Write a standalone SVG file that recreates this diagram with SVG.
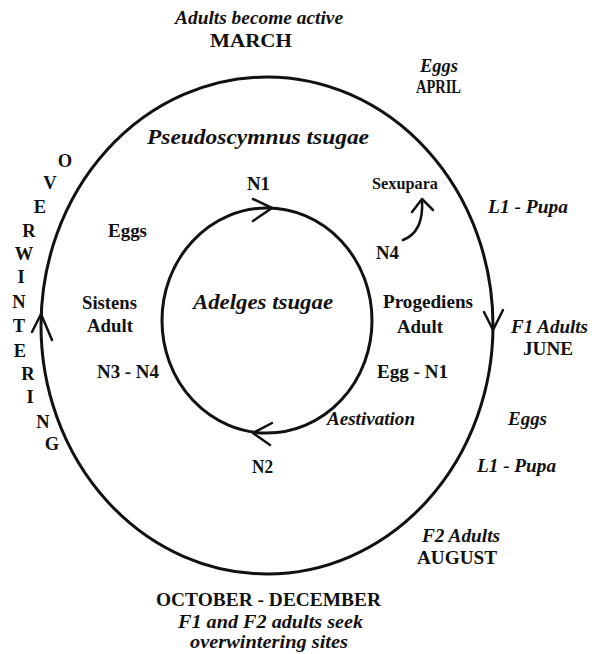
<svg xmlns="http://www.w3.org/2000/svg" width="596" height="654" viewBox="0 0 596 654">
<style>
text{font-family:"Liberation Serif","Times New Roman",serif;font-weight:bold;font-size:18.5px;fill:#111}
.i{font-style:italic}
.big{font-size:20.5px}
.ow{text-anchor:middle}
.ln{fill:none;stroke:#111;stroke-width:3;stroke-linecap:round;stroke-linejoin:round}
.ah{fill:none;stroke:#111;stroke-width:2.5;stroke-linecap:round;stroke-linejoin:round}
</style>
<rect width="596" height="654" fill="#fff"/>
<g id="connectors">
  <ellipse class="ln" cx="267" cy="325.5" rx="226" ry="248.5"/>
  <ellipse class="ln" cx="267" cy="320.5" rx="105" ry="112.5"/>
  <polyline class="ah" points="32,332 41,314 52,340"/>
  <polyline class="ah" points="484,312 493,330 503,310"/>
  <polyline class="ah" points="253,199 272,208 253,221"/>
  <polyline class="ah" points="272,423 253,433 270,445"/>
  <path class="ah" d="M403,240 Q424,232 422,200"/>
  <polyline class="ah" points="412,212 422,199 433,210"/>
</g>
<g id="march"><text class="i" x="175" y="24" textLength="168" lengthAdjust="spacingAndGlyphs">Adults become active</text><text x="210" y="47" textLength="82" lengthAdjust="spacingAndGlyphs">MARCH</text></g>
<g id="april"><text class="i" x="420" y="72" textLength="38" lengthAdjust="spacingAndGlyphs">Eggs</text><text x="416" y="93" textLength="45" lengthAdjust="spacingAndGlyphs">APRIL</text></g>
<g id="pseudoscymnus"><text class="i big" x="147" y="144" textLength="222" lengthAdjust="spacingAndGlyphs">Pseudoscymnus tsugae</text></g>
<g id="overwintering">
  <text class="ow" x="65" y="167">O</text>
  <text class="ow" x="50" y="189">V</text>
  <text class="ow" x="40" y="213">E</text>
  <text class="ow" x="29" y="237">R</text>
  <text class="ow" x="24" y="260">W</text>
  <text class="ow" x="21" y="283">I</text>
  <text class="ow" x="19" y="308">N</text>
  <text class="ow" x="19" y="332">T</text>
  <text class="ow" x="20" y="357">E</text>
  <text class="ow" x="28" y="380">R</text>
  <text class="ow" x="30" y="403">I</text>
  <text class="ow" x="43" y="428">N</text>
  <text class="ow" x="52" y="450">G</text>
</g>
<g id="eggs-winter"><text x="108" y="237" textLength="39" lengthAdjust="spacingAndGlyphs">Eggs</text></g>
<g id="sistens"><text x="82" y="309" textLength="55" lengthAdjust="spacingAndGlyphs">Sistens</text><text x="87" y="332" textLength="46" lengthAdjust="spacingAndGlyphs">Adult</text></g>
<g id="n3n4"><text x="97" y="378" textLength="62" lengthAdjust="spacingAndGlyphs">N3 - N4</text></g>
<g id="n1"><text x="247" y="190" textLength="23" lengthAdjust="spacingAndGlyphs">N1</text></g>
<g id="n2"><text x="252" y="473" textLength="21" lengthAdjust="spacingAndGlyphs">N2</text></g>
<g id="adelges"><text class="i big" x="193" y="309" textLength="140" lengthAdjust="spacingAndGlyphs">Adelges tsugae</text></g>
<g id="sexupara"><text x="372" y="189" textLength="66" lengthAdjust="spacingAndGlyphs" style="font-size:16px">Sexupara</text></g>
<g id="n4"><text x="376" y="259" textLength="23" lengthAdjust="spacingAndGlyphs">N4</text></g>
<g id="progediens"><text x="383" y="308" textLength="90" lengthAdjust="spacingAndGlyphs">Progediens</text><text x="397" y="333" textLength="46" lengthAdjust="spacingAndGlyphs">Adult</text></g>
<g id="egg-n1"><text x="377" y="378" textLength="71" lengthAdjust="spacingAndGlyphs">Egg - N1</text></g>
<g id="aestivation"><text class="i" x="327" y="425" textLength="88" lengthAdjust="spacingAndGlyphs">Aestivation</text></g>
<g id="l1-pupa-1"><text class="i" x="488" y="213" textLength="80" lengthAdjust="spacingAndGlyphs">L1 - Pupa</text></g>
<g id="june"><text class="i" x="511" y="333" textLength="77" lengthAdjust="spacingAndGlyphs">F1 Adults</text><text x="523" y="355" textLength="50" lengthAdjust="spacingAndGlyphs">JUNE</text></g>
<g id="eggs-summer"><text class="i" x="508" y="425" textLength="39" lengthAdjust="spacingAndGlyphs">Eggs</text></g>
<g id="l1-pupa-2"><text class="i" x="477" y="472" textLength="79" lengthAdjust="spacingAndGlyphs">L1 - Pupa</text></g>
<g id="august"><text class="i" x="422" y="542" textLength="78" lengthAdjust="spacingAndGlyphs">F2 Adults</text><text x="417" y="564" textLength="80" lengthAdjust="spacingAndGlyphs">AUGUST</text></g>
<g id="oct-dec"><text x="156" y="606" textLength="225" lengthAdjust="spacingAndGlyphs">OCTOBER - DECEMBER</text><text class="i" x="178" y="628" textLength="185" lengthAdjust="spacingAndGlyphs">F1 and F2 adults seek</text><text class="i" x="190" y="648" textLength="158" lengthAdjust="spacingAndGlyphs">overwintering sites</text></g>
</svg>
